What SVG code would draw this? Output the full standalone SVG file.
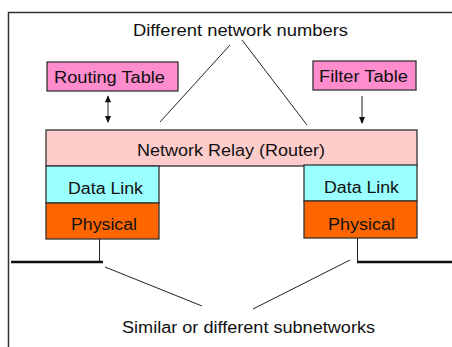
<svg xmlns="http://www.w3.org/2000/svg" width="452" height="347" viewBox="0 0 452 347">
<style>
text{font-family:"Liberation Sans",Arial,sans-serif;font-size:16px;fill:#111}
.box{stroke:#333;stroke-width:1.3}
.ln{stroke:#222;stroke-width:1;fill:none}
.net{stroke:#111;stroke-width:2.5;fill:none}
</style>
<defs>
<marker id="ah" viewBox="0 0 8 8" refX="7" refY="4" markerWidth="8" markerHeight="7" markerUnits="userSpaceOnUse" orient="auto-start-reverse">
<path d="M0,0.5 L8,4 L0,7.5 Z" fill="#111"/>
</marker>
</defs>
<rect width="452" height="347" fill="#fff"/>
<path d="M8.5,347 V12.5 H452" stroke="#333" stroke-width="1.5" fill="none"/>
<g id="label-top"><text x="133" y="36" textLength="215" lengthAdjust="spacingAndGlyphs">Different network numbers</text></g>
<g id="routing-table"><rect class="box" x="47" y="62" width="131" height="29" fill="#ff8ccc"/><text x="54" y="83" textLength="111" lengthAdjust="spacingAndGlyphs">Routing Table</text></g>
<g id="filter-table"><rect class="box" x="313" y="61" width="103" height="29" fill="#ff8ccc"/><text x="319" y="82" textLength="89" lengthAdjust="spacingAndGlyphs">Filter Table</text></g>
<g id="network-relay"><rect class="box" x="46" y="130" width="371" height="36" fill="#ffcccc"/><text x="137" y="156" textLength="188" lengthAdjust="spacingAndGlyphs">Network Relay (Router)</text></g>
<g id="datalink-left"><rect class="box" x="46" y="166" width="113" height="37" fill="#99ffff"/><text x="68" y="194" textLength="75" lengthAdjust="spacingAndGlyphs">Data Link</text></g>
<g id="physical-left"><rect class="box" x="46" y="203" width="113" height="36" fill="#ff6600"/><text x="71" y="230" textLength="66" lengthAdjust="spacingAndGlyphs">Physical</text></g>
<g id="datalink-right"><rect class="box" x="304" y="165" width="113" height="36" fill="#99ffff"/><text x="324" y="193" textLength="75" lengthAdjust="spacingAndGlyphs">Data Link</text></g>
<g id="physical-right"><rect class="box" x="304" y="201" width="113" height="37" fill="#ff6600"/><text x="328" y="230" textLength="67" lengthAdjust="spacingAndGlyphs">Physical</text></g>
<g id="label-bottom"><text x="122" y="333" textLength="253" lengthAdjust="spacingAndGlyphs">Similar or different subnetworks</text></g>
<g id="connectors">
<line class="ln" x1="108" y1="96" x2="108" y2="122" stroke-width="1.5" marker-start="url(#ah)" marker-end="url(#ah)"/>
<line class="ln" x1="362" y1="96" x2="362" y2="123" stroke-width="1.5" marker-end="url(#ah)"/>
<line class="ln" x1="230" y1="45" x2="160" y2="122"/>
<line class="ln" x1="242" y1="40" x2="307" y2="125"/>
<line class="ln" x1="99.5" y1="239" x2="99.5" y2="262"/>
<line class="ln" x1="357.5" y1="238" x2="357.5" y2="262"/>
<line class="net" x1="11" y1="262" x2="103" y2="262"/>
<line class="net" x1="357" y1="262" x2="452" y2="262"/>
<line class="ln" x1="105" y1="267" x2="202" y2="306"/>
<line class="ln" x1="350" y1="260" x2="253" y2="309"/>
</g>
</svg>
